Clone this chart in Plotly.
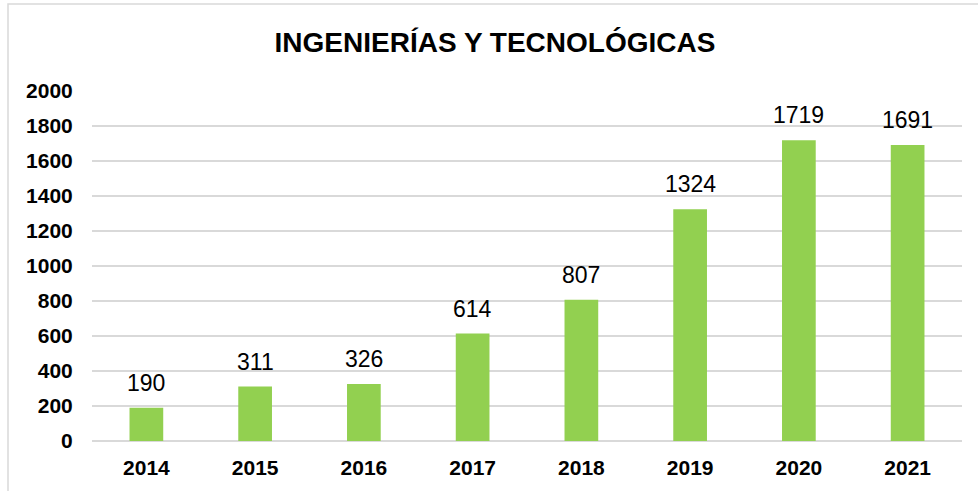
import plotly.graph_objects as go

years = ["2014", "2015", "2016", "2017", "2018", "2019", "2020", "2021"]
values = [190, 311, 326, 614, 807, 1324, 1719, 1691]
y_ticks = list(range(0, 2001, 200))
title_text = "INGENIERÍAS Y TECNOLÓGICAS"

W, H = 978, 491
L, R, T, B = 92, 16, 91, 50
pw, ph = W - L - R, H - T - B

fig = go.Figure()
fig.add_trace(go.Bar(
    x=years, y=values,
    marker=dict(color="#92D050", line=dict(width=0)),
    width=0.31,
    hoverinfo="x+y",
))

for i, v in enumerate(values):
    fig.add_annotation(
        x=i, y=v, text=str(v), showarrow=False,
        yanchor="bottom", yshift=10,
        font=dict(family="Liberation Sans, Arial, sans-serif", size=23, color="#000000"),
    )

# chart border (only top and left visible in the reference)
fig.add_shape(
    type="rect", xref="paper", yref="paper",
    x0=(8 - L) / pw, x1=(W + 20 - L) / pw,
    y0=-(B + 20) / ph, y1=(H - B - 4) / ph,
    line=dict(color="#D9D9D9", width=1.5), fillcolor="rgba(0,0,0,0)", layer="below",
)

fig.update_layout(
    width=W, height=H,
    margin=dict(l=L, r=R, t=T, b=B, autoexpand=False),
    paper_bgcolor="white", plot_bgcolor="white",
    showlegend=False,
    title=dict(
        text=f"<b>{title_text}</b>",
        x=495 / W, xanchor="center", y=1 - 42 / H, yanchor="middle",
        xref="container", yref="container",
        font=dict(family="Liberation Sans, Arial, sans-serif", size=28, color="#000000"),
    ),
    font=dict(family="Liberation Sans, Arial, sans-serif", color="#000000"),
)

fig.update_xaxes(
    type="category", range=[-0.5, len(years) - 0.5], automargin=False,
    showgrid=False, showline=False, zeroline=False,
    ticks="outside", ticklen=8, tickcolor="rgba(0,0,0,0)",
    tickfont=dict(size=21, family="Liberation Sans, Arial, sans-serif", color="#000000", weight="bold"),
)
fig.update_yaxes(
    range=[0, 2000], automargin=False,
    tickvals=y_ticks, ticktext=[str(t) for t in y_ticks],
    showgrid=True, gridcolor="#D9D9D9", gridwidth=1.5,
    zeroline=True, zerolinecolor="#D9D9D9", zerolinewidth=1.5,
    showline=False,
    ticks="outside", ticklen=14, tickcolor="rgba(0,0,0,0)",
    tickfont=dict(size=21, family="Liberation Sans, Arial, sans-serif", color="#000000", weight="bold"),
)

fig.write_html("out.html", config={"displayModeBar": False},
               post_script="document.body.style.margin='0';")
